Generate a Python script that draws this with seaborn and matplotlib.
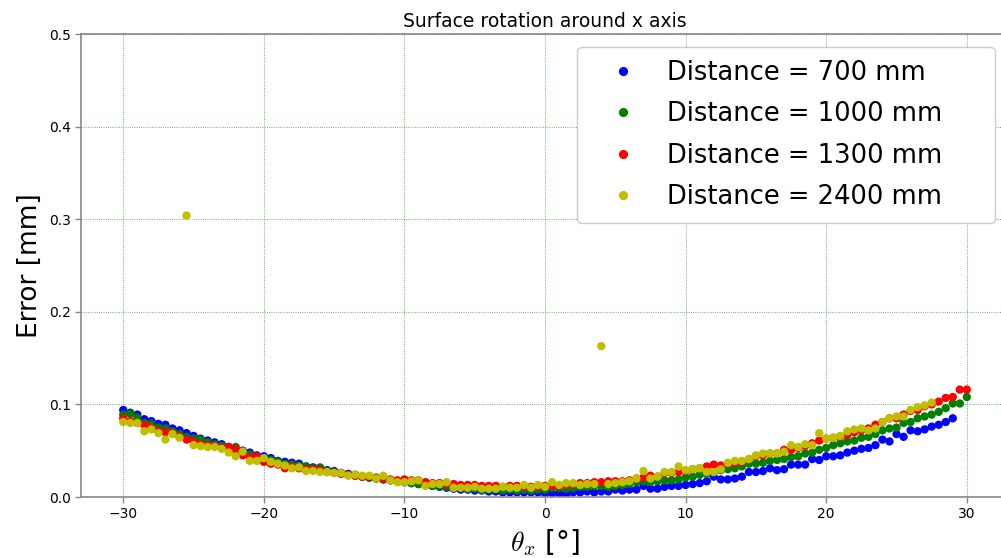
import numpy as np
import pandas as pd
import matplotlib
matplotlib.use("Agg")
import matplotlib.pyplot as plt
import seaborn as sns

nan = np.nan
theta = np.arange(-30, 30.01, 0.5)

err_700 = [
    0.094, 0.091, 0.089, 0.084, 0.082, 0.079, 0.078, 0.074, 0.072, 0.069,
    0.066, 0.063, 0.061, 0.059, 0.057, 0.054, 0.051, 0.050, 0.048, 0.045,
    0.044, 0.042, 0.039, 0.038, 0.037, 0.036, 0.033, 0.032, 0.031, 0.029,
    0.028, 0.026, 0.025, 0.024, 0.022, 0.021, 0.020, 0.019, 0.018, 0.017,
    0.016, 0.015, 0.014, 0.013, 0.012, 0.011, 0.010, 0.009, 0.008, 0.008,
    0.007, 0.007, 0.006, 0.006, 0.005, 0.005, 0.005, 0.005, 0.005, 0.005,
    0.004, 0.004, 0.004, 0.003, 0.005, 0.005, 0.006, 0.005, 0.006, 0.006,
    0.008, 0.007, 0.008, 0.008, 0.012, 0.009, 0.009, 0.011, 0.012, 0.012,
    0.013, 0.014, 0.015, 0.017, 0.022, 0.019, 0.019, 0.020, 0.022, 0.027,
    0.027, 0.028, 0.031, 0.029, 0.030, 0.035, 0.035, 0.035, 0.041, 0.040,
    0.044, 0.044, 0.045, 0.048, 0.050, 0.052, 0.053, 0.056, 0.062, 0.060,
    0.068, 0.065, 0.072, 0.071, 0.073, 0.076, 0.078, 0.081, 0.085, nan,
    nan,
]

err_1000 = [
    0.089, 0.090, 0.086, 0.080, 0.079, 0.075, 0.074, 0.071, 0.068, 0.065,
    0.063, 0.062, 0.059, 0.057, 0.055, 0.054, 0.054, 0.049, 0.046, 0.043,
    0.042, 0.040, 0.038, 0.036, 0.035, 0.034, 0.033, 0.031, 0.032, 0.028,
    0.027, 0.026, 0.024, 0.023, 0.022, 0.021, 0.020, 0.019, 0.018, 0.017,
    0.016, 0.015, 0.014, 0.013, 0.012, 0.012, 0.011, 0.010, 0.010, 0.009,
    0.009, 0.008, 0.008, 0.008, 0.007, 0.008, 0.007, 0.008, 0.007, 0.008,
    0.008, 0.010, 0.010, 0.009, 0.010, 0.011, 0.011, 0.012, 0.012, 0.011,
    0.012, 0.013, 0.014, 0.016, 0.017, 0.016, 0.017, 0.018, 0.018, 0.019,
    0.021, 0.022, 0.024, 0.025, 0.027, 0.029, 0.030, 0.031, 0.033, 0.036,
    0.036, 0.037, 0.039, 0.040, 0.041, 0.043, 0.044, 0.047, 0.048, 0.051,
    0.053, 0.056, 0.058, 0.060, 0.061, 0.064, 0.065, 0.068, 0.072, 0.074,
    0.075, 0.080, 0.081, 0.085, 0.087, 0.089, 0.092, 0.096, 0.101, 0.101,
    0.108,
]

err_1300 = [
    0.085, 0.082, 0.080, 0.078, 0.075, 0.071, 0.070, 0.069, 0.065, 0.062,
    0.060, 0.057, 0.056, 0.055, 0.053, 0.054, 0.052, 0.045, 0.043, 0.044,
    0.038, 0.036, 0.035, 0.031, 0.033, 0.031, 0.030, 0.030, 0.029, 0.027,
    0.026, 0.025, 0.024, 0.023, 0.022, 0.022, 0.021, 0.020, 0.019, 0.018,
    0.019, 0.018, 0.018, 0.016, 0.015, 0.015, 0.014, 0.014, 0.013, 0.013,
    0.013, 0.012, 0.012, 0.012, 0.011, 0.012, 0.012, 0.011, 0.011, 0.011,
    0.012, 0.012, 0.012, 0.013, 0.014, 0.015, 0.015, 0.016, 0.016, 0.017,
    0.017, 0.017, 0.018, 0.020, 0.021, 0.023, 0.022, 0.026, 0.026, 0.027,
    0.028, 0.030, 0.031, 0.033, 0.035, 0.034, 0.036, 0.037, 0.038, 0.041,
    0.044, 0.045, 0.047, 0.047, 0.051, 0.051, 0.053, 0.055, 0.058, 0.061,
    0.063, 0.064, 0.065, 0.067, 0.070, 0.072, 0.074, 0.078, 0.081, 0.085,
    0.085, 0.089, 0.093, 0.094, 0.098, 0.100, 0.103, 0.107, 0.108, 0.116,
    0.116,
]

err_2400 = [
    0.081, 0.080, 0.080, 0.071, 0.073, 0.069, 0.062, 0.068, 0.064, 0.304,
    0.056, 0.055, 0.054, 0.054, 0.052, 0.048, 0.044, 0.049, 0.039, 0.039,
    0.042, 0.038, 0.036, 0.034, 0.031, 0.032, 0.028, 0.028, 0.027, 0.027,
    0.026, 0.026, 0.023, 0.024, 0.023, 0.023, 0.020, 0.023, 0.018, 0.016,
    0.016, 0.017, 0.018, 0.012, 0.014, 0.014, 0.016, 0.010, 0.010, 0.010,
    0.011, 0.009, 0.009, 0.009, 0.011, 0.010, 0.010, 0.013, 0.010, 0.013,
    0.011, 0.016, 0.013, 0.015, 0.015, 0.013, 0.014, 0.014, 0.163, 0.014,
    0.015, 0.016, 0.017, 0.020, 0.028, 0.020, 0.022, 0.027, 0.027, 0.033,
    0.029, 0.030, 0.031, 0.027, 0.027, 0.030, 0.037, 0.039, 0.039, 0.041,
    0.045, 0.047, 0.047, 0.047, 0.049, 0.056, 0.054, 0.057, 0.056, 0.069,
    0.063, 0.064, 0.066, 0.071, 0.073, 0.074, 0.072, 0.074, 0.081, 0.085,
    0.087, 0.087, 0.094, 0.097, 0.099, 0.102, nan, nan, nan, nan,
    nan,
]

labels = ["Distance = 700 mm", "Distance = 1000 mm",
          "Distance = 1300 mm", "Distance = 2400 mm"]
colors = ["#0000ff", "#008000", "#ff0000", "#bfbf00"]

frames = []
for lab, vals in zip(labels, [err_700, err_1000, err_1300, err_2400]):
    frames.append(pd.DataFrame({"theta": theta, "error": vals, "series": lab}))
df = pd.concat(frames, ignore_index=True).dropna()

sns.set_style("white")
plt.rcParams['font.family'] = ['DejaVu Sans']
plt.rcParams['mathtext.fontset'] = 'cm'
plt.rcParams['text.color'] = 'black'
plt.rcParams['axes.labelcolor'] = 'black'

fig = plt.figure(figsize=(10.01, 5.58), dpi=100)
ax = fig.add_axes([0.081, 0.1093, 0.927, 0.8297])

sns.scatterplot(data=df, x="theta", y="error", hue="series",
                hue_order=labels, palette=colors, s=36, linewidth=0,
                ax=ax, legend=True)

ax.set_xlim(-33, 33)
ax.set_ylim(0, 0.5)
ax.set_xticks([-30, -20, -10, 0, 10, 20, 30])
ax.set_yticks([0.0, 0.1, 0.2, 0.3, 0.4, 0.5])
ax.set_yticklabels(["0.0", "0.1", "0.2", "0.3", "0.4", "0.5"])
ax.tick_params(axis="both", labelsize=10, length=4, width=1, color="#888888",
               labelcolor="black", direction="out", bottom=True, left=True)
for sp in ax.spines.values():
    sp.set_color("#888888")
    sp.set_linewidth(1.2)
ax.grid(True, color="green", linestyle=":", linewidth=0.6, alpha=0.8)
ax.set_axisbelow(True)

ax.set_title("Surface rotation around x axis", fontsize=13.5, pad=5,
             color="black")
ax.set_xlabel(r"$\theta_x$ [°]", fontsize=20, color="black")
ax.set_ylabel("Error [mm]", fontsize=19, color="black")

sns.move_legend(ax, "upper left", bbox_to_anchor=(0.5345, 0.0, 0.4505, 0.972),
                mode="expand", borderaxespad=0.0, title=None, fontsize=18.5,
                frameon=True, markerscale=1.1, handlelength=2.6,
                handletextpad=0.4, labelspacing=0.6, borderpad=0.5,
                framealpha=1.0)
for t in ax.get_legend().get_texts():
    t.set_color("black")

fig.savefig("out.png", dpi=100)
